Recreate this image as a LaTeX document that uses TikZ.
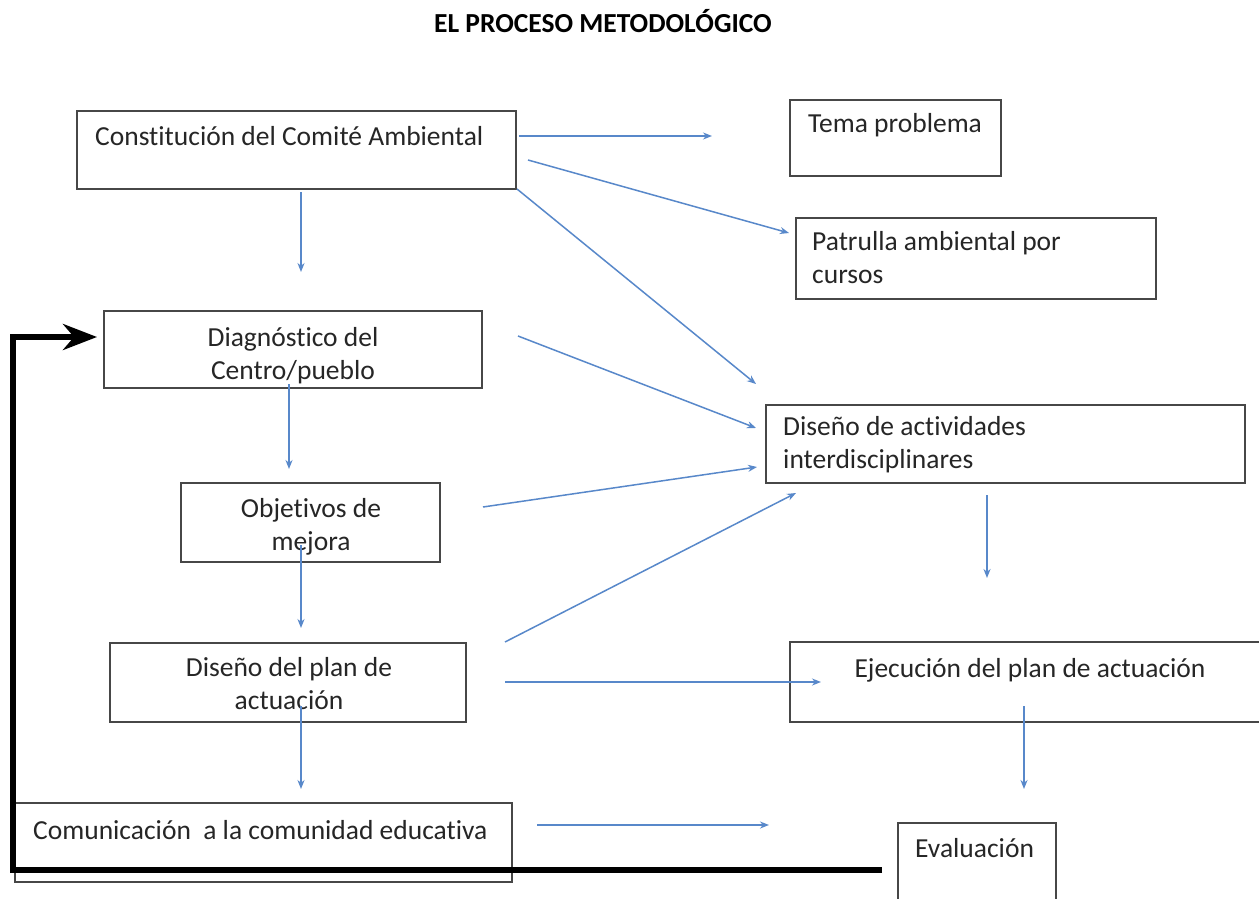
\documentclass[tikz,border=0pt]{standalone}
\usepackage{fontspec}
\setmainfont{Carlito}[Ligatures=CommonOff]
\usepackage{xcolor}
\usetikzlibrary{arrows.meta,fit}
\definecolor{azulflecha}{RGB}{88,136,202}

\begin{document}
\begin{tikzpicture}[x=1pt,y=-1pt,
  caja/.style={draw=black!72, line width=1.8pt, inner sep=0pt},
  texto/.style={font=\fontsize{27.5}{33}\selectfont, text=black!85, inner sep=0pt},
  titulo/.style={font=\bfseries\fontsize{27.5}{33}\selectfont, inner sep=0pt},
  flecha/.style={draw=azulflecha, line width=1.5pt, -{Stealth[length=9pt,width=7pt]}},
  retorno/.style={draw=black, line width=5.5pt, line join=miter,
    -{Stealth[length=34pt,width=26pt,inset=11pt]}}]
  % Page
  \fill[white] (0,0) rectangle (1259,899);
  \useasboundingbox (0,0) rectangle (1259,899);

  % Title
  \node[titulo, anchor=base] (titulo) at (603,33) {EL PROCESO METODOLÓGICO};

  % Boxes
  \node[caja, fit={(77,111) (516,189)}] (cca) {};
  \node[caja, fit={(790,100) (1001,176)}] (tema) {};
  \node[caja, fit={(796,218) (1156,299)}] (patrulla) {};
  \node[caja, fit={(104,311) (482,388)}] (diag) {};
  \node[caja, fit={(766,405) (1245,483)}] (disact) {};
  \node[caja, fit={(181,483) (440,562)}] (obj) {};
  \node[caja, fit={(110,643) (466,722)}] (plan) {};
  \node[caja, fit={(790,642) (1275,722)}] (ejec) {};
  \node[caja, fit={(15,803) (512,882)}] (com) {};
  \node[caja, fit={(898,823) (1056,915)}] (eval) {};

  % Box texts (multi-line: base = last line)
  \node[texto, anchor=base west] (cca-t) at (95,145) {Constitución del Comité Ambiental};
  \node[texto, anchor=base west] (tema-t) at (808,132) {Tema problema};
  \node[texto, anchor=base west, align=left] (patrulla-t) at (812,283) {Patrulla ambiental por\\cursos};
  \node[texto, anchor=base, align=center] (diag-t) at (293,379) {Diagnóstico del\\Centro/pueblo};
  \node[texto, anchor=base west, align=left] (disact-t) at (783,468) {Diseño de actividades\\interdisciplinares};
  \node[texto, anchor=base, align=center] (obj-t) at (311,550) {Objetivos de\\mejora};
  \node[texto, anchor=base, align=center] (plan-t) at (289,709) {Diseño del plan de\\actuación};
  \node[texto, anchor=base] (ejec-t) at (1030,677) {Ejecución del plan de actuación};
  \node[texto, anchor=base west] (com-t) at (33,839) {Comunicación~ a la comunidad educativa};
  \node[texto, anchor=base west] (eval-t) at (915,857) {Evaluación};

  % Arrow ends
  \coordinate (cca-a) at (519,136);   \coordinate (tema-a) at (712,136);
  \coordinate (cca-b) at (528,160);   \coordinate (patrulla-a) at (789,233);
  \coordinate (cca-c) at (517,189);   \coordinate (disact-a) at (756,384);
  \coordinate (cca-d) at (301,192);   \coordinate (diag-a) at (301,272);
  \coordinate (diag-b) at (518,336);  \coordinate (disact-b) at (756,428);
  \coordinate (diag-c) at (289,384);  \coordinate (obj-a) at (289,469);
  \coordinate (obj-b) at (483,507);   \coordinate (disact-c) at (757,467);
  \coordinate (obj-c) at (301,545);   \coordinate (plan-a) at (301,628);
  \coordinate (plan-b) at (505,642);  \coordinate (disact-d) at (796,493);
  \coordinate (plan-c) at (505,682);  \coordinate (ejec-a) at (821,682);
  \coordinate (disact-e) at (987,495); \coordinate (ejec-b) at (987,578);
  \coordinate (plan-d) at (301,706);  \coordinate (com-a) at (301,789);
  \coordinate (ejec-c) at (1024,706); \coordinate (eval-a) at (1024,789);
  \coordinate (com-b) at (537,825);   \coordinate (eval-b) at (769,825);

  % Blue arrows
  \draw[flecha] (cca-a) -- (tema-a);
  \draw[flecha] (cca-b) -- (patrulla-a);
  \draw[flecha] (cca-c) -- (disact-a);
  \draw[flecha] (cca-d) -- (diag-a);
  \draw[flecha] (diag-b) -- (disact-b);
  \draw[flecha] (diag-c) -- (obj-a);
  \draw[flecha] (obj-b) -- (disact-c);
  \draw[flecha] (obj-c) -- (plan-a);
  \draw[flecha] (plan-b) -- (disact-d);
  \draw[flecha] (plan-c) -- (ejec-a);
  \draw[flecha] (disact-e) -- (ejec-b);
  \draw[flecha] (plan-d) -- (com-a);
  \draw[flecha] (ejec-c) -- (eval-a);
  \draw[flecha] (com-b) -- (eval-b);

  % Feedback loop
  \coordinate (ret-a) at (882,870);
  \coordinate (ret-b) at (13,337);
  \coordinate (diag-d) at (97,337);
  \draw[retorno] (ret-a) -| (ret-b) -- (diag-d);
\end{tikzpicture}
\end{document}
